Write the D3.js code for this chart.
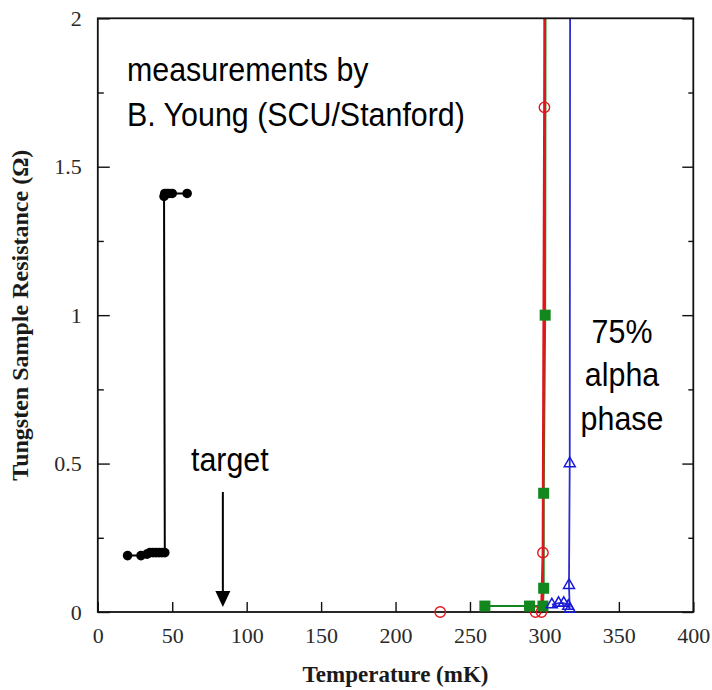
<!DOCTYPE html>
<html>
<head>
<meta charset="utf-8">
<script src="https://cdn.jsdelivr.net/npm/d3@7"></script>
<style>
  html, body { margin: 0; padding: 0; background: #fff; }
  svg { display: block; }
</style>
</head>
<body>
<svg id="chart" width="712" height="690"></svg>
<script>
// Tungsten film resistance vs. temperature (superconducting transitions)
const xTicks = [0, 50, 100, 150, 200, 250, 300, 350, 400];
const yTicks = [0, 0.5, 1, 1.5, 2];
const yMinorTicks = [0.25, 0.75, 1.25, 1.75];

// target film (black, filled circles)
const targetSample = [
  [20, 0.19], [29, 0.19], [33, 0.195], [35, 0.2], [37, 0.2], [39, 0.2],
  [41, 0.2], [43, 0.2], [45, 0.2],
  [44.5, 1.40], [45, 1.41], [46.5, 1.41], [48, 1.41], [50, 1.41], [60, 1.41]
];
// red open circles
const sampleRed = [
  [230, 0], [294, 0], [298, 0], [299, 0.2], [300, 1.7], [300.3, 2.4]
];
// green filled squares
const sampleGreen = [
  [260, 0.02], [290, 0.02], [299, 0.02], [299.5, 0.08], [299.5, 0.4],
  [300.5, 1.0], [300.8, 2.4]
];
// blue open triangles (75% alpha phase)
const sampleBlue = [
  [305, 0.025], [309.5, 0.03], [313, 0.03], [316, 0.02], [317, 0.01],
  [316.5, 0.09], [317, 0.5], [317.3, 2.4]
];

const margin = { left: 97.8, top: 18.3, right: 693.3, bottom: 612 };
const svg = d3.select("#chart");

const x = d3.scaleLinear().domain([0, 400]).range([margin.left, margin.right]);
const y = d3.scaleLinear().domain([0, 2]).range([margin.bottom, margin.top]);

const serif = "'Liberation Serif', 'Times New Roman', Times, serif";
const sans = "'Liberation Sans', Arial, Helvetica, sans-serif";

svg.append("defs").append("clipPath").attr("id", "plotClip")
  .append("rect")
  .attr("x", margin.left).attr("y", margin.top)
  .attr("width", margin.right - margin.left)
  .attr("height", margin.bottom - margin.top + 20);

const line = d3.line().x(d => x(d[0])).y(d => y(d[1]));

// the isolated 230 mK red reading is not joined to the rest of its sweep
const series = [
  { data: targetSample, color: "#000000", width: 2 },
  { data: sampleRed.slice(1), color: "#e4141c", width: 2.6 },
  { data: sampleGreen, color: "#12871e", width: 2 },
  { data: sampleBlue, color: "#2c2cd2", width: 1.8 }
];

const plot = svg.append("g").attr("clip-path", "url(#plotClip)");

// connecting lines (green under red so the overlap reads brown-red)
[series[2], series[1], series[3], series[0]].forEach(s => {
  plot.append("path")
    .datum(s.data)
    .attr("fill", "none")
    .attr("stroke", s.color)
    .attr("stroke-width", s.width)
    .attr("d", line);
});

// frame
svg.append("rect")
  .attr("x", margin.left).attr("y", margin.top)
  .attr("width", margin.right - margin.left)
  .attr("height", margin.bottom - margin.top)
  .attr("fill", "none").attr("stroke", "#111").attr("stroke-width", 1.8);

// axes with inward ticks
function styleAxis(g) {
  g.select(".domain").remove();
  g.selectAll(".tick line").attr("stroke", "#111").attr("stroke-width", 1.4);
  g.selectAll(".tick text")
    .attr("fill", "#2a2a2a")
    .style("font-family", serif)
    .style("font-size", "22px");
}

svg.append("g")
  .attr("transform", `translate(0,${margin.bottom})`)
  .call(d3.axisBottom(x).tickValues(xTicks).tickFormat(d3.format("d"))
    .tickSizeInner(-10).tickSizeOuter(0).tickPadding(15))
  .call(styleAxis)
  .call(g => g.selectAll(".tick text").attr("dy", "0.71em"));

svg.append("g")
  .attr("transform", `translate(${margin.left},0)`)
  .call(d3.axisLeft(y).tickValues(yTicks).tickFormat(d => String(d))
    .tickSizeInner(-12).tickSizeOuter(0).tickPadding(16))
  .call(styleAxis);

svg.append("g")
  .attr("transform", `translate(${margin.left},0)`)
  .call(d3.axisLeft(y).tickValues(yMinorTicks).tickFormat("")
    .tickSizeInner(-6).tickSizeOuter(0))
  .call(styleAxis);

svg.append("g")
  .attr("transform", `translate(${margin.right},0)`)
  .call(d3.axisRight(y).tickValues(yTicks).tickFormat("")
    .tickSizeInner(-11).tickSizeOuter(0))
  .call(styleAxis);

svg.append("g")
  .attr("transform", `translate(${margin.right},0)`)
  .call(d3.axisRight(y).tickValues(yMinorTicks).tickFormat("")
    .tickSizeInner(-5).tickSizeOuter(0))
  .call(styleAxis);

// markers
const markers = svg.append("g").attr("clip-path", "url(#plotClip)");

markers.selectAll(".black").data(targetSample).join("circle")
  .attr("cx", d => x(d[0])).attr("cy", d => y(d[1])).attr("r", 4.8)
  .attr("fill", "#000");

markers.selectAll(".red").data(sampleRed).join("circle")
  .attr("cx", d => x(d[0])).attr("cy", d => y(d[1])).attr("r", 5.2)
  .attr("fill", "none").attr("stroke", "#e4141c").attr("stroke-width", 1.4);

markers.selectAll(".green").data(sampleGreen).join("rect")
  .attr("x", d => x(d[0]) - 5.5).attr("y", d => y(d[1]) - 5.5)
  .attr("width", 11).attr("height", 11)
  .attr("fill", "#12871e");

const tri = d3.symbol().type(d3.symbolTriangle).size(52);
markers.selectAll(".blue").data(sampleBlue).join("path")
  .attr("transform", d => `translate(${x(d[0])},${y(d[1])})`)
  .attr("d", tri)
  .attr("fill", "none").attr("stroke", "#1818d8").attr("stroke-width", 1.5);

// axis titles
svg.append("text")
  .attr("x", (margin.left + margin.right) / 2).attr("y", 682)
  .attr("text-anchor", "middle")
  .style("font-family", serif).style("font-weight", "bold").style("font-size", "23px")
  .attr("fill", "#1a1a1a")
  .text("Temperature (mK)");

svg.append("text")
  .attr("transform", `translate(28,${(margin.top + margin.bottom) / 2}) rotate(-90)`)
  .attr("text-anchor", "middle")
  .style("font-family", serif).style("font-weight", "bold").style("font-size", "24px")
  .attr("fill", "#1a1a1a")
  .text("Tungsten Sample Resistance (\u03A9)");

// annotations (tall sans-serif lettering)
const note = svg.append("g")
  .style("font-family", sans).style("font-size", "30.4px").attr("fill", "#000");
function label(tx, ty, str, anchor) {
  note.append("text")
    .attr("transform", `translate(${tx},${ty}) scale(1,1.12)`)
    .attr("text-anchor", anchor || "start")
    .text(str);
}
label(127, 81, "measurements by");
label(127, 126, "B. Young (SCU/Stanford)");
label(191, 471, "target");
label(622, 343, "75%", "middle");
label(622, 386, "alpha", "middle");
label(622, 430, "phase", "middle");

// arrow pointing at the target temperature
const arrowT = 84;
svg.append("line")
  .attr("x1", x(arrowT)).attr("x2", x(arrowT))
  .attr("y1", 492).attr("y2", 594)
  .attr("stroke", "#000").attr("stroke-width", 2);
svg.append("path")
  .attr("d", `M${x(arrowT) - 7.5},591 L${x(arrowT) + 7.5},591 L${x(arrowT)},607 Z`)
  .attr("fill", "#000");
</script>
</body>
</html>
